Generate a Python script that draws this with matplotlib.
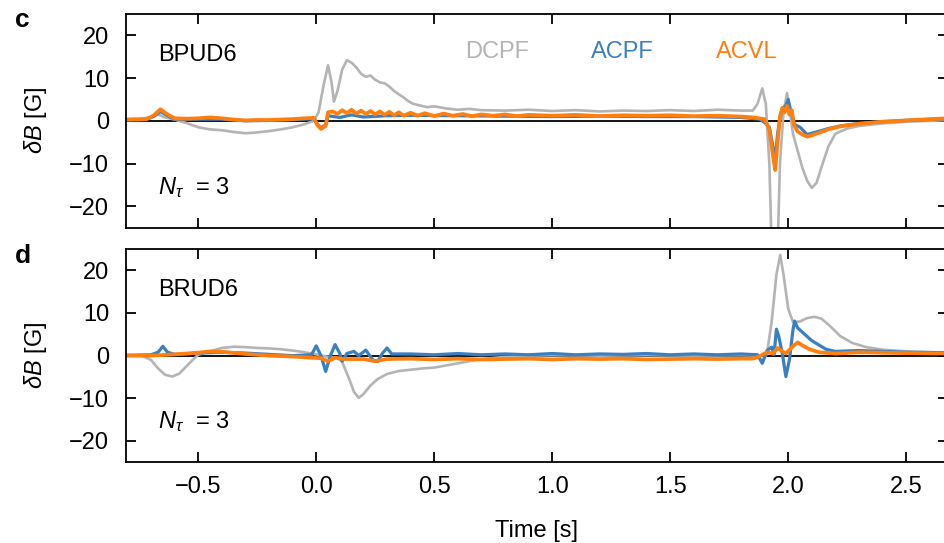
import matplotlib
matplotlib.use("Agg")
import matplotlib.pyplot as plt

plt.rcParams['font.family'] = ['Liberation Sans', 'DejaVu Sans']
plt.rcParams['mathtext.fontset'] = 'custom'
plt.rcParams['mathtext.rm'] = 'Liberation Sans'
plt.rcParams['mathtext.it'] = 'Liberation Sans:italic'

# ---------------- data ----------------
# Panel c (BPUD6)
c_dcpf_t = [-0.80, -0.75, -0.70, -0.67, -0.64, -0.60, -0.55, -0.50, -0.45, -0.40, -0.35, -0.30,
            -0.25, -0.20, -0.15, -0.10, -0.05, -0.01, 0.01, 0.03, 0.05, 0.065, 0.075, 0.09, 0.11,
            0.13, 0.15, 0.17, 0.19, 0.21, 0.23, 0.25, 0.27, 0.29, 0.31, 0.33, 0.35, 0.37, 0.39,
            0.41, 0.44, 0.47, 0.50, 0.55, 0.60, 0.65, 0.70, 0.80, 0.90, 1.00, 1.10, 1.20, 1.30,
            1.40, 1.50, 1.60, 1.70, 1.80, 1.85, 1.87, 1.89, 1.905, 1.92, 1.935, 1.95, 1.965,
            1.98, 1.995, 2.005, 2.02, 2.04, 2.06, 2.08, 2.10, 2.12, 2.14, 2.17, 2.20, 2.25,
            2.30, 2.40, 2.50, 2.60, 2.68]
c_dcpf_v = [0.4, 0.5, 0.8, 1.5, 0.8, 0.3, -0.5, -1.5, -2.0, -2.2, -2.6, -2.9,
            -2.7, -2.4, -2.0, -1.5, -0.8, 0.0, 2.0, 8.0, 13.0, 9.0, 4.5, 7.0, 12.0,
            14.2, 13.6, 12.5, 11.0, 10.3, 10.6, 9.6, 9.0, 8.8, 8.0, 7.0, 6.2, 5.5, 4.6,
            4.0, 3.6, 3.2, 3.4, 2.9, 2.6, 2.8, 2.5, 2.4, 2.6, 2.3, 2.5, 2.2, 2.4,
            2.3, 2.5, 2.3, 2.6, 2.4, 2.4, 4.0, 7.6, 4.0, -10.0, -40.0, -40.0, -10.0,
            2.0, 6.5, 3.0, -3.0, -7.0, -11.0, -14.0, -15.7, -14.5, -11.0, -6.0, -3.0, -1.8,
            -1.2, -0.6, -0.2, 0.0, 0.2]

c_acpf_t = [-0.80, -0.72, -0.69, -0.66, -0.63, -0.60, -0.50, -0.40, -0.30, -0.20, -0.10, -0.01,
            0.005, 0.02, 0.04, 0.05, 0.10, 0.15, 0.20, 0.30, 0.40, 0.60, 0.80, 1.00, 1.20, 1.40,
            1.60, 1.80, 1.88, 1.90, 1.92, 1.935, 1.945, 1.955, 1.965, 1.975, 1.99, 2.00, 2.01,
            2.025, 2.05, 2.08, 2.12, 2.17, 2.22, 2.30, 2.40, 2.50, 2.60, 2.68]
c_acpf_v = [0.2, 0.3, 1.0, 2.2, 1.2, 0.4, 0.4, 0.4, 0.0, 0.1, 0.3, 0.5,
            -0.8, -1.6, -1.0, 1.2, 0.8, 1.4, 0.9, 1.2, 1.3, 1.2, 1.1, 1.0, 1.1, 1.0,
            1.0, 0.8, 0.4, -0.4, -1.5, -6.0, -9.0, -3.0, 0.5, 3.0, 3.5, 5.0, 2.5,
            -0.8, -1.5, -3.2, -2.6, -1.8, -1.2, -0.6, -0.2, 0.1, 0.3, 0.5]

c_acvl_t = [-0.80, -0.72, -0.69, -0.66, -0.63, -0.60, -0.55, -0.50, -0.45, -0.40, -0.35, -0.30,
            -0.25, -0.20, -0.15, -0.10, -0.05, -0.01, 0.005, 0.02, 0.04, 0.05, 0.07, 0.09, 0.11,
            0.13, 0.15, 0.17, 0.19, 0.21, 0.23, 0.25, 0.27, 0.29, 0.31, 0.33, 0.35, 0.37, 0.40,
            0.43, 0.46, 0.50, 0.54, 0.58, 0.62, 0.66, 0.70, 0.75, 0.80, 0.85, 0.90, 1.00, 1.10,
            1.20, 1.30, 1.40, 1.50, 1.60, 1.70, 1.80, 1.85, 1.90, 1.92, 1.935, 1.945, 1.955,
            1.965, 1.975, 1.985, 1.995, 2.005, 2.015, 2.025, 2.04, 2.06, 2.08, 2.10, 2.13, 2.17,
            2.22, 2.30, 2.40, 2.50, 2.60, 2.68]
c_acvl_v = [0.3, 0.4, 1.2, 2.7, 1.5, 0.6, 0.5, 0.6, 0.8, 0.6, 0.3, 0.1,
            0.2, 0.2, 0.3, 0.4, 0.6, 0.7, -1.0, -1.9, -1.2, 2.0, 2.2, 1.6, 2.5,
            1.8, 2.6, 1.7, 2.4, 1.6, 2.3, 1.5, 2.2, 1.4, 2.1, 1.3, 2.0, 1.2, 1.9,
            1.2, 1.8, 1.1, 1.7, 1.2, 1.6, 1.1, 1.5, 1.2, 1.5, 1.1, 1.4, 1.2, 1.4,
            1.1, 1.3, 1.2, 1.3, 1.1, 1.2, 1.0, 0.8, 0.4, -2.0, -8.0, -11.5, -5.0,
            1.0, 3.0, 2.0, 3.5, 1.5, 2.5, -1.0, -2.5, -3.2, -3.7, -3.4, -2.8, -2.0,
            -1.3, -0.7, -0.2, 0.1, 0.4, 0.6]

# Panel d (BRUD6)
d_dcpf_t = [-0.80, -0.74, -0.70, -0.67, -0.64, -0.61, -0.58, -0.55, -0.52, -0.50, -0.45, -0.40,
            -0.35, -0.30, -0.25, -0.20, -0.15, -0.10, -0.05, 0.00, 0.05, 0.09, 0.11, 0.14, 0.16,
            0.18, 0.20, 0.23, 0.26, 0.30, 0.35, 0.40, 0.45, 0.50, 0.55, 0.60, 0.65, 0.70, 0.80,
            0.90, 1.00, 1.20, 1.40, 1.60, 1.80, 1.87, 1.89, 1.91, 1.93, 1.95, 1.966, 1.98, 2.00,
            2.02, 2.05, 2.08, 2.11, 2.14, 2.18, 2.22, 2.27, 2.33, 2.40, 2.50, 2.60, 2.68]
d_dcpf_v = [0.0, 0.0, -1.0, -3.0, -4.5, -4.9, -4.2, -2.5, -0.8, 0.2, 1.0, 1.8,
            2.1, 2.0, 1.8, 1.7, 1.5, 1.2, 0.8, 0.3, -0.3, -0.5, -1.5, -5.5, -8.5,
            -9.9, -9.0, -7.0, -5.5, -4.3, -3.6, -3.3, -3.0, -2.8, -2.3, -1.8, -1.3, -0.8, -0.3,
            0.0, 0.1, 0.0, 0.1, 0.0, 0.1, 0.0, -1.5, 0.5, 8.0, 19.0, 23.6, 19.0, 11.0,
            7.9, 8.0, 8.8, 9.1, 8.7, 6.8, 4.6, 3.0, 2.0, 1.4, 1.0, 0.8, 0.7]

d_acpf_t = [-0.80, -0.70, -0.67, -0.65, -0.63, -0.60, -0.50, -0.40, -0.30, -0.20, -0.10, -0.02,
            0.00, 0.02, 0.04, 0.06, 0.08, 0.10, 0.11, 0.13, 0.16, 0.18, 0.21, 0.24, 0.26, 0.28,
            0.30, 0.32, 0.40, 0.50, 0.60, 0.70, 0.80, 0.90, 1.00, 1.10, 1.20, 1.30, 1.40, 1.50,
            1.60, 1.70, 1.80, 1.87, 1.89, 1.91, 1.93, 1.94, 1.95, 1.96, 1.975, 1.99, 2.005,
            2.02, 2.027, 2.04, 2.07, 2.10, 2.13, 2.16, 2.20, 2.30, 2.40, 2.50, 2.68]
d_acpf_v = [0.1, 0.2, 0.8, 2.2, 0.8, 0.3, 0.6, 0.8, 0.6, 0.3, 0.0, 0.2,
            2.3, 0.0, -3.7, 0.0, 2.6, 0.5, -1.3, 0.5, 1.0, 0.0, 1.3, -1.0, -1.4, 0.5,
            1.8, 0.4, 0.4, 0.2, 0.5, 0.2, 0.4, 0.2, 0.5, 0.2, 0.4, 0.3, 0.5, 0.2,
            0.4, 0.2, 0.4, 0.2, -1.8, 1.2, 2.0, 0.3, 6.2, 4.5, 0.5, -4.9, -1.0,
            6.0, 8.1, 6.5, 5.0, 3.5, 2.5, 1.5, 1.0, 1.2, 1.0, 0.8, 0.7]

d_acvl_t = [-0.80, -0.70, -0.60, -0.50, -0.45, -0.40, -0.30, -0.20, -0.10, -0.02, 0.02, 0.05,
            0.08, 0.12, 0.20, 0.25, 0.30, 0.40, 0.50, 0.60, 0.70, 0.80, 0.90, 1.00, 1.10, 1.20,
            1.30, 1.40, 1.50, 1.60, 1.70, 1.80, 1.85, 1.88, 1.91, 1.935, 1.955, 1.975, 1.99,
            2.02, 2.04, 2.06, 2.09, 2.13, 2.20, 2.30, 2.50, 2.68]
d_acvl_v = [0.0, 0.0, 0.3, 0.7, 1.0, 0.9, 0.4, 0.0, -0.2, -0.5, -0.6, -1.3,
            -0.5, -0.8, -0.8, -1.3, -0.8, -0.7, -0.9, -0.7, -0.9, -0.8, -0.7, -0.9, -0.7, -0.8,
            -0.7, -0.9, -0.8, -0.7, -0.8, -0.7, -0.7, -0.1, 0.8, 0.5, 1.8, 1.0, 0.5,
            2.2, 3.1, 2.4, 1.5, 0.8, 0.5, 0.8, 0.6, 0.5]

panel_letters = ['c', 'd']
device_names = ['BPUD6', 'BRUD6']
series_names = ['DCPF', 'ACPF', 'ACVL']
series_colors = ['#b4b4b4', '#3a7fc1', '#ff7f0e']
yticks = [-20, -10, 0, 10, 20]
ytick_labels = ['\u221220', '\u221210', '0', '10', '20']
xticks = [-0.5, 0.0, 0.5, 1.0, 1.5, 2.0, 2.5]
xtick_labels = ['\u22120.5', '0.0', '0.5', '1.0', '1.5', '2.0', '2.5']

# ---------------- figure ----------------
fig = plt.figure(figsize=(9.45, 5.43), dpi=100)
W, H = 945, 543
left_px, right_px = 126, 948
boxes = [(14, 227.7), (249, 462.3)]
panels = [
    [(c_dcpf_t, c_dcpf_v), (c_acpf_t, c_acpf_v), (c_acvl_t, c_acvl_v)],
    [(d_dcpf_t, d_dcpf_v), (d_acpf_t, d_acpf_v), (d_acvl_t, d_acvl_v)],
]
lws = [1.9, 2.3, 2.7]
fs = 17

for i, (top, bot) in enumerate(boxes):
    ax = fig.add_axes([left_px / W, 1 - bot / H, (right_px - left_px) / W, (bot - top) / H])
    ax.axhline(0, color='black', lw=1.3, zorder=1)
    for (t, v), col, lw in zip(panels[i], series_colors, lws):
        ax.plot(t, v, color=col, lw=lw, zorder=2, solid_joinstyle='round')
    ax.set_xlim(-0.806, 2.677)
    ax.set_ylim(-25, 25)
    ax.set_yticks(yticks)
    ax.set_yticklabels(ytick_labels)
    ax.set_xticks(xticks)
    ax.tick_params(direction='in', top=True, right=True, length=7, width=1.3,
                   labelsize=fs)
    ax.tick_params(axis='y', pad=12)
    ax.tick_params(axis='x', pad=10)
    for s in ax.spines.values():
        s.set_linewidth(1.3)
    if i == 0:
        ax.tick_params(labelbottom=False)
        for name, col, xf in zip(series_names, series_colors, [0.452, 0.604, 0.755]):
            ax.text(xf, 0.822, name, color=col, fontsize=fs, ha='center', va='center',
                    transform=ax.transAxes)
    else:
        ax.set_xticklabels(xtick_labels)
        ax.set_xlabel('Time [s]', fontsize=fs)
        ax.xaxis.set_label_coords(0.5, -0.27)
    ax.set_ylabel(r'$\delta B$ [G]', fontsize=fs)
    ax.yaxis.set_label_coords(-0.094, 0.5)
    ax.text(0.039, 0.808, device_names[i], fontsize=fs, ha='left', va='center',
            transform=ax.transAxes)
    ax.text(0.039, 0.19, r'$N_\tau$  = 3', fontsize=fs, ha='left', va='center',
            transform=ax.transAxes)

fig.text(15 / W, 1 - 27 / H, panel_letters[0], fontsize=19, fontweight='bold', va='baseline')
fig.text(15 / W, 1 - 263 / H, panel_letters[1], fontsize=19, fontweight='bold', va='baseline')

fig.savefig('out.png', dpi=100)
